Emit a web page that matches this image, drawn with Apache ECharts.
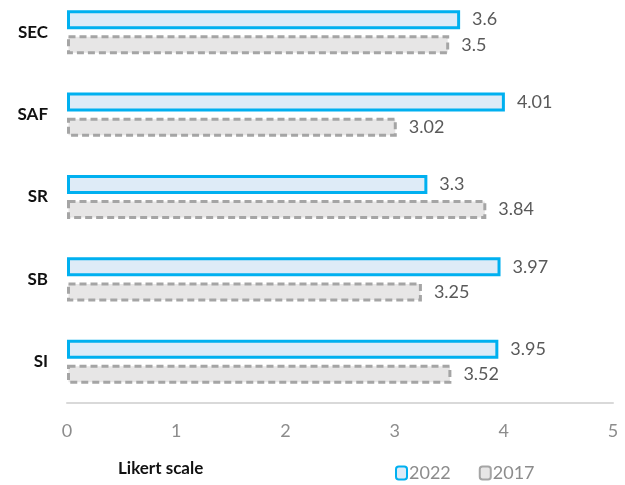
<!DOCTYPE html>
<html>
<head>
<meta charset="utf-8">
<script src="https://cdn.jsdelivr.net/npm/echarts@6/dist/echarts.min.js"></script>
<style>
  html, body { margin: 0; padding: 0; background: #fff; }
  #chart { width: 625px; height: 485px; }
</style>
</head>
<body>
<div id="chart"></div>
<script>
// Survey dimensions, top to bottom
const categories = ['SEC', 'SAF', 'SR', 'SB', 'SI'];
const series2022 = [3.6, 4.01, 3.3, 3.97, 3.95];
const series2017 = [3.5, 3.02, 3.84, 3.25, 3.52];
const xTicks = [0, 1, 2, 3, 4, 5];

const chart = echarts.init(document.getElementById('chart'), null, { renderer: 'canvas' });
const font = 'Lato, "Open Sans", sans-serif';

chart.setOption({
  animation: false,
  grid: {
    left: 67, right: 12, top: -9, bottom: 82,
    containLabel: false,
    outerBoundsMode: 'none'
  },
  xAxis: {
    type: 'value',
    min: xTicks[0],
    max: xTicks[xTicks.length - 1],
    interval: 1,
    axisLine: { show: true, lineStyle: { color: '#d9d9d9', width: 2 } },
    axisTick: { show: false },
    splitLine: { show: false },
    axisLabel: { color: '#8c8c8c', fontSize: 18, fontFamily: font, margin: 19 }
  },
  yAxis: {
    type: 'category',
    inverse: true,
    data: categories,
    axisLine: { show: false },
    axisTick: { show: false },
    axisLabel: { color: '#111', fontSize: 17, fontWeight: 'bold', fontFamily: font, margin: 19 }
  },
  legend: {
    data: ['2022', '2017'],
    left: 390,
    top: 459,
    itemWidth: 11,
    itemHeight: 13,
    itemGap: 28,
    textStyle: { color: '#8c8c8c', fontSize: 18, fontFamily: font, padding: [0, 0, 0, -3] }
  },
  graphic: [{
    type: 'text',
    left: 118,
    top: 460,
    style: { text: 'Likert scale', fill: '#111', font: 'bold 17px ' + font }
  }],
  series: [
    {
      name: '2022',
      type: 'bar',
      data: series2022,
      barWidth: 19,
      barGap: '32%',
      itemStyle: { color: '#deebf7', borderColor: '#00b0f0', borderWidth: 3 },
      label: { show: true, position: 'right', distance: 12, color: '#595959', fontSize: 18, fontFamily: font }
    },
    {
      name: '2017',
      type: 'bar',
      data: series2017,
      barWidth: 19,
      itemStyle: { color: '#e7e6e6', borderColor: '#a5a5a5', borderWidth: 3, borderType: [7, 4] },
      label: { show: true, position: 'right', distance: 12, color: '#595959', fontSize: 18, fontFamily: font }
    }
  ]
});
</script>
</body>
</html>
